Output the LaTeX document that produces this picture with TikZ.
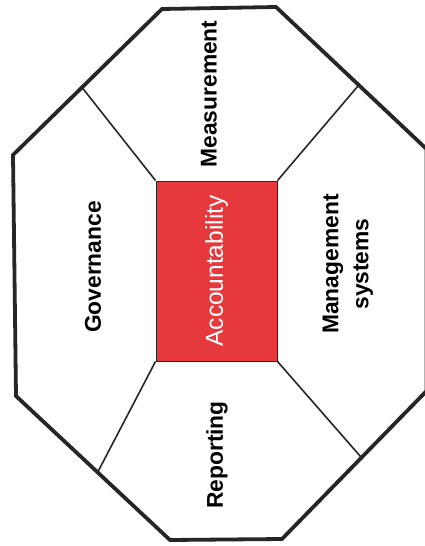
\documentclass[tikz,border=0pt]{standalone}
\usepackage{fontspec}
\setmainfont{Liberation Sans}
\usetikzlibrary{calc}
\definecolor{accred}{RGB}{229,57,61}
\definecolor{edgegray}{RGB}{38,38,38}
\begin{document}
\begin{tikzpicture}[x=1pt,y=-1pt,
  outer/.style={draw=edgegray,line width=3.8pt,line join=miter},
  inner/.style={draw=edgegray,line width=1.6pt},
  accbox/.style={draw=edgegray,line width=1pt,fill=accred,minimum width=121pt,minimum height=180pt,inner sep=0pt},
  lbl/.style={rotate=90,font=\fontsize{22.8}{30}\selectfont\bfseries,text=black,align=center,inner sep=0pt},
  acclbl/.style={rotate=90,font=\fontsize{24.5}{30}\selectfont,text=white,inner sep=0pt}]
\useasboundingbox (0,0) rectangle (425,546);
% octagon corners
\coordinate (A) at (162,9);
\coordinate (B) at (276,7);
\coordinate (C) at (426.5,149);
\coordinate (D) at (426.5,391);
\coordinate (E) at (282,539);
\coordinate (F) at (170,540);
\coordinate (G) at (16,396);
\coordinate (H) at (13,155);
% centre box
\node[accbox] (acc) at (216.5,271) {};
% spoke ends on the outline
\coordinate (s1) at ($(H)!0.463!(A)$);
\coordinate (s2) at ($(B)!0.55!(C)$);
\coordinate (s3) at ($(D)!0.45!(E)$);
\coordinate (s4) at ($(G)!0.53!(F)$);
\draw[inner] (acc.north west) -- (s1);
\draw[inner] (acc.north east) -- (s2);
\draw[inner] (acc.south east) -- (s3);
\draw[inner] (acc.south west) -- (s4);
\draw[outer] (A) -- (B) -- (C) -- (D) -- (E) -- (F) -- (G) -- (H) -- cycle;
% labels
\node[acclbl] (accl) at (acc.center) {Accountability};
\node[lbl] (meas) at (209,94) {Measurement};
\node[lbl] (gov) at (93,267) {Governance};
\node[lbl] (rep) at (217,455) {Reporting};
\node[lbl] (mgmt) at (348,264) {Management\\systems};
\end{tikzpicture}
\end{document}
